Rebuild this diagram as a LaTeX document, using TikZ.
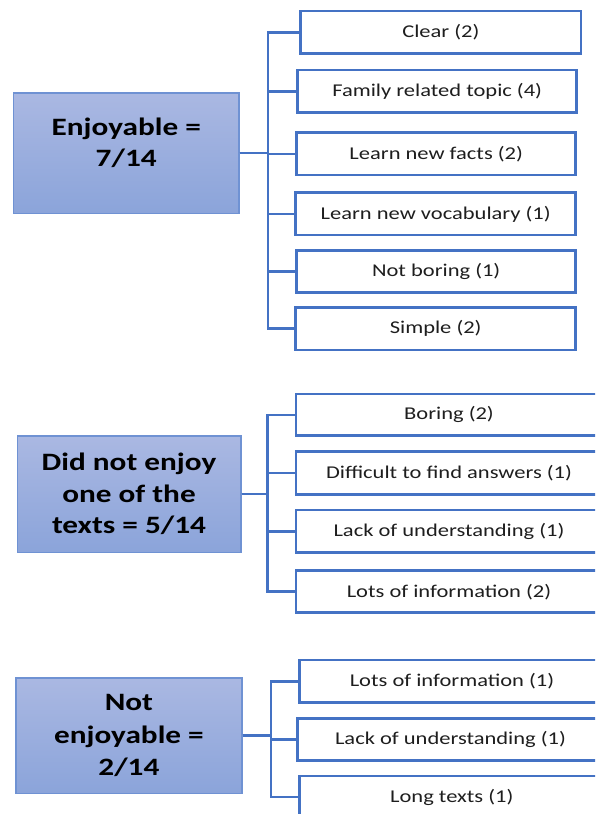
\documentclass[tikz,border=0pt]{standalone}
\usepackage{fontspec}
\setmainfont{Carlito}
\newfontfamily\itemfont[FakeStretch=1.25]{Carlito}
\newfontfamily\headfont[FakeStretch=1.25]{Carlito}

\definecolor{linkblue}{HTML}{4472C4}
\definecolor{headtop}{HTML}{AAB8E2}
\definecolor{headbot}{HTML}{8BA4DA}
\definecolor{headedge}{HTML}{6F92D3}
\definecolor{itemtext}{HTML}{1E1E1E}

\tikzset{
  headbox/.style={draw=headedge, line width=1.6pt, top color=headtop,
    bottom color=headbot, align=center, text=black, inner sep=0pt,
    font=\headfont\bfseries\fontsize{25}{31.7}\selectfont},
  itembox/.style={draw=linkblue, line width=2.7pt, fill=white,
    inner sep=0pt, text=itemtext, minimum height=42.3pt,
    font=\itemfont\fontsize{18}{22}\selectfont},
  link/.style={draw=linkblue, line width=2.6pt}
}

\begin{document}
\begin{tikzpicture}[x=1pt, y=-1pt]
\clip (0,0) rectangle (595,814);

% --- Enjoyable ---
\node[headbox, minimum width=225.7pt, minimum height=120.6pt] (h1) at (126.2,153)
  {Enjoyable =\\7/14\\[-10pt]\mbox{}};
\node[itembox, minimum width=280.3pt] (c11) at (440.9,32.2) {Clear (2)};
\node[itembox, minimum width=279pt] (c12) at (437.2,91.2) {Family related topic (4)};
\node[itembox, minimum width=279pt] (c13) at (436.2,153.9) {Learn new facts (2)};
\node[itembox, minimum width=280pt] (c14) at (435.7,213.9) {Learn new vocabulary (1)};
\node[itembox, minimum width=279pt, minimum height=42pt] (c15) at (436.2,271.7) {Not boring (1)};
\node[itembox, minimum width=280pt, minimum height=42.7pt] (c16) at (435.7,328.7) {Simple (2)};
\foreach \c in {c11,c12,c13,c14,c15,c16}
  \draw[link] (h1.east) -- ++(28,0) |- (\c.west);

% --- Did not enjoy one of the texts ---
\node[headbox, minimum width=223.4pt, minimum height=116.6pt] (h2) at (129,494)
  {Did not enjoy\\one of the\\texts = 5/14};
\node[itembox, minimum width=306pt, minimum height=41.7pt] (c21) at (449,414.8) {Boring (2)};
\node[itembox, minimum width=306pt, minimum height=42.6pt] (c22) at (449,473) {Difficult to find answers (1)};
\node[itembox, minimum width=306pt, minimum height=42.7pt] (c23) at (449,531.3) {Lack of understanding (1)};
\node[itembox, minimum width=306pt, minimum height=42pt] (c24) at (449,591.7) {Lots of information (2)};
\foreach \c in {c21,c22,c23,c24}
  \draw[link] (h2.east) -- ++(26,0) |- (\c.west);

% --- Not enjoyable ---
\node[headbox, minimum width=225.7pt, minimum height=115.6pt,
  font=\headfont\bfseries\fontsize{25}{32.5}\selectfont] (h3) at (128.9,735.5)
  {Not\\enjoyable =\\2/14};
\node[itembox, minimum width=305.4pt] (c31) at (452,681.2) {Lots of information (1)};
\node[itembox, minimum width=305.6pt] (c32) at (450.5,739.5) {Lack of understanding (1)};
\node[itembox, minimum width=305pt] (c33) at (451.8,797) {Long texts (1)};
\foreach \c in {c31,c32,c33}
  \draw[link] (h3.east) -- ++(28.3,0) |- (\c.west);
\end{tikzpicture}
\end{document}
